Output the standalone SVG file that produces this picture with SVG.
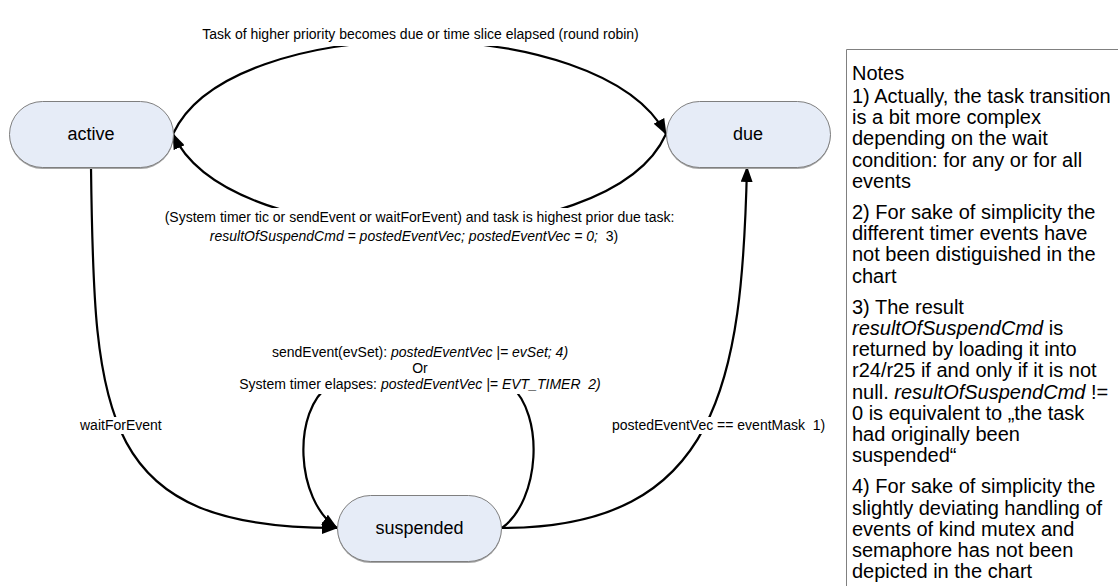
<svg xmlns="http://www.w3.org/2000/svg" width="1118" height="586" viewBox="0 0 1118 586">
<style>
.node{fill:#E6ECF7;stroke:#7F7F7F;stroke-width:1}
.shadow{fill:#A6A6A6}
.nt{font-family:"Liberation Sans",Arial,sans-serif;font-size:18px;fill:#000;text-anchor:middle}
.conn{fill:none;stroke:#000;stroke-width:2.2}
.lbl{font-family:"Liberation Sans",Arial,sans-serif;font-size:14px;fill:#000}
.mid{text-anchor:middle}
.bg{fill:#fff}
.it{font-style:italic}
.note{font-family:"Liberation Sans",Arial,sans-serif;font-size:20px;fill:#000}
</style>
<defs>
<marker id="arr" viewBox="0 0 16 12" refX="15" refY="6" markerWidth="16" markerHeight="12" markerUnits="userSpaceOnUse" orient="auto">
<path d="M0,0 L16,6 L0,12 z" fill="#000"/>
</marker>
</defs>
<rect width="1118" height="586" fill="#fff"/>
<g id="connectors">
<path class="conn" d="M173,134 C230,10 600,10 666,134" marker-end="url(#arr)"/>
<path class="conn" d="M666,134 C610,260 230,260 173,134" marker-end="url(#arr)"/>
<path class="conn" d="M91,167 C94,420 100,528 337,528" marker-end="url(#arr)"/>
<path class="conn" d="M502,528 C720,528 742,380 747,167" marker-end="url(#arr)"/>
<path class="conn" d="M502,528 C540,500 545,415 510,385 C480,360 360,360 330,385 C292,410 295,500 337,528" marker-end="url(#arr)"/>
</g>
<g id="node-active">
<rect class="shadow" x="9.5" y="103" width="164" height="66" rx="33"/>
<rect class="node" x="9.5" y="101.5" width="164" height="66" rx="33"/>
<text class="nt" x="91" y="140">active</text>
</g>
<g id="node-due">
<rect class="shadow" x="666.5" y="103" width="164" height="66" rx="33"/>
<rect class="node" x="666.5" y="101.5" width="164" height="66" rx="33"/>
<text class="nt" x="748" y="140">due</text>
</g>
<g id="node-suspended">
<rect class="shadow" x="337.5" y="497" width="164" height="66" rx="33"/>
<rect class="node" x="337.5" y="495.5" width="164" height="66" rx="33"/>
<text class="nt" x="419.5" y="534">suspended</text>
</g>
<g id="labels">
<rect class="bg" x="200" y="26" width="441" height="20"/>
<text class="lbl mid" x="420.5" y="39">Task of higher priority becomes due or time slice elapsed (round robin)</text>
<rect class="bg" x="163" y="208" width="514" height="38"/>
<text class="lbl mid" x="419.5" y="222">(System timer tic or sendEvent or waitForEvent) and task is highest prior due task:</text>
<text class="lbl mid" x="414" y="241" xml:space="preserve"><tspan class="it">resultOfSuspendCmd = postedEventVec; postedEventVec = 0;</tspan>  3)</text>
<rect class="bg" x="238" y="343" width="364" height="51"/>
<text class="lbl mid" x="420" y="357" xml:space="preserve">sendEvent(evSet): <tspan class="it">postedEventVec |= evSet; 4)</tspan></text>
<text class="lbl mid" x="420" y="373">Or</text>
<text class="lbl mid" x="420" y="389" xml:space="preserve">System timer elapses: <tspan class="it">postedEventVec |= EVT_TIMER  2)</tspan></text>
<rect class="bg" x="78" y="417" width="86" height="17"/>
<text class="lbl" x="80" y="430">waitForEvent</text>
<rect class="bg" x="609" y="417" width="222" height="17"/>
<text class="lbl" x="612" y="430" xml:space="preserve">postedEventVec == eventMask  1)</text>
</g>
<g id="notes">
<path d="M1118,49.5 H846.5 V586" fill="none" stroke="#808080" stroke-width="1"/>
<text class="note" x="852" y="80">Notes</text>
<text class="note" x="852" y="103">1) Actually, the task transition</text>
<text class="note" x="852" y="124.2">is a bit more complex</text>
<text class="note" x="852" y="145.4">depending on the wait</text>
<text class="note" x="852" y="166.6">condition: for any or for all</text>
<text class="note" x="852" y="187.8">events</text>
<text class="note" x="852" y="219">2) For sake of simplicity the</text>
<text class="note" x="852" y="240.2">different timer events have</text>
<text class="note" x="852" y="261.4">not been distiguished in the</text>
<text class="note" x="852" y="282.6">chart</text>
<text class="note" x="852" y="313.8">3) The result</text>
<text class="note" x="852" y="335"><tspan class="it">resultOfSuspendCmd</tspan> is</text>
<text class="note" x="852" y="356.2">returned by loading it into</text>
<text class="note" x="852" y="377.4">r24/r25 if and only if it is not</text>
<text class="note" x="852" y="398.6">null. <tspan class="it">resultOfSuspendCmd</tspan> !=</text>
<text class="note" x="852" y="419.8">0 is equivalent to „the task</text>
<text class="note" x="852" y="441">had originally been</text>
<text class="note" x="852" y="462.2">suspended“</text>
<text class="note" x="852" y="493.4">4) For sake of simplicity the</text>
<text class="note" x="852" y="514.6">slightly deviating handling of</text>
<text class="note" x="852" y="535.8">events of kind mutex and</text>
<text class="note" x="852" y="557">semaphore has not been</text>
<text class="note" x="852" y="578.2">depicted in the chart</text>
</g>
</svg>
